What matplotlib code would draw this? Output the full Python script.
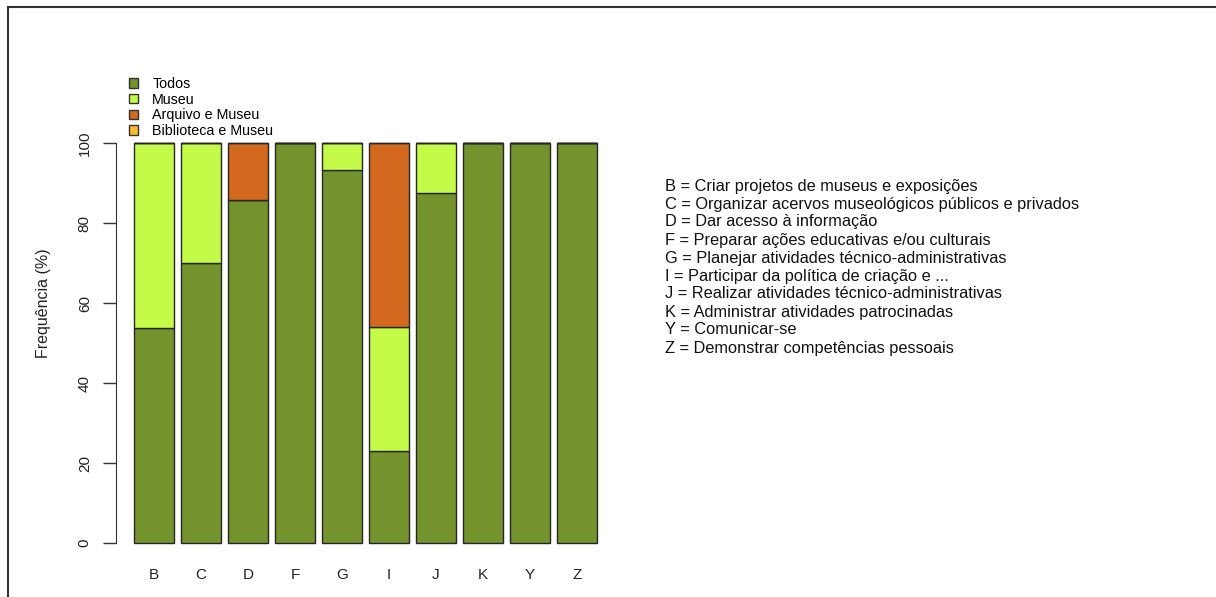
import numpy as np
import matplotlib.pyplot as plt
from matplotlib.patches import Patch
from matplotlib.lines import Line2D

plt.rcParams['font.family'] = ['Liberation Sans', 'DejaVu Sans']

# Data
categories = ['B', 'C', 'D', 'F', 'G', 'I', 'J', 'K', 'Y', 'Z']
todos = [53.8, 70.0, 85.7, 100.0, 93.3, 23.1, 87.5, 100.0, 100.0, 100.0]
museu = [46.2, 30.0, 0.0, 0.0, 6.7, 30.8, 12.5, 0.0, 0.0, 0.0]
arquivo_museu = [0.0, 0.0, 14.3, 0.0, 0.0, 46.1, 0.0, 0.0, 0.0, 0.0]
biblioteca_museu = [0.0] * 10

series_names = ['Todos', 'Museu', 'Arquivo e Museu', 'Biblioteca e Museu']
series_colors = ['#74932c', '#c4fb48', '#d2691e', '#fbbd2c']

descriptions = [
    'B = Criar projetos de museus e exposições',
    'C = Organizar acervos museológicos públicos e privados',
    'D = Dar acesso à informação',
    'F = Preparar ações educativas e/ou culturais',
    'G = Planejar atividades técnico-administrativas',
    'I = Participar da política de criação e ...',
    'J = Realizar atividades técnico-administrativas',
    'K = Administrar atividades patrocinadas',
    'Y = Comunicar-se',
    'Z = Demonstrar competências pessoais',
]

W, H = 1216, 597
fig = plt.figure(figsize=(W / 100, H / 100), dpi=100)
# plot region: y range 0..120 (+4%), axis drawn only up to 100
ax = fig.add_axes([116 / W, (H - 562.2) / H, 499 / W, 518.4 / H])

# R-style barplot positions (space = 0.2, width = 1)
x = 0.7 + 1.2 * np.arange(len(categories))
bottom = np.zeros(len(categories))
for vals, color in zip([todos, museu, arquivo_museu, biblioteca_museu], series_colors):
    ax.bar(x, vals, width=1.0, bottom=bottom, color=color,
           edgecolor='#262626', linewidth=1.0)
    bottom += np.array(vals)

ax.set_xlim(-0.272, 12.472)
ax.set_ylim(-4.8, 124.8)
for s in ['top', 'right', 'bottom']:
    ax.spines[s].set_visible(False)
ax.spines['left'].set_bounds(0, 100)
ax.spines['left'].set_color('#333333')

ax.set_yticks([0, 20, 40, 60, 80, 100])
ax.tick_params(axis='y', length=9.4, width=1, color='#333333', pad=8,
               labelsize=11, labelcolor='#222222')
for lab in ax.get_yticklabels():
    lab.set_rotation(90)
    lab.set_va('center')
ax.set_xticks(x)
ax.set_xticklabels(categories)
ax.tick_params(axis='x', length=0, pad=4, labelsize=11, labelcolor='#222222')
ax.set_ylabel('Frequência (%)', fontsize=11.5, color='#222222', labelpad=19)

handles = [Patch(facecolor=c, edgecolor='#333333', linewidth=1) for c in series_colors]
fig.legend(handles, series_names, loc='upper left',
           bbox_to_anchor=(129 / W, (H - 77) / H), frameon=False,
           fontsize=10.3, handlelength=0.63, handleheight=0.63,
           handletextpad=1.0, labelspacing=0.12, borderpad=0, borderaxespad=0)

# Description block on the right
for i, line in enumerate(descriptions):
    fig.text(665 / W, (H - 186 - i * 18.0) / H, line, fontsize=11.8,
             color='#111111', va='center', ha='left')

# Page frame (top and left edges)
fig.add_artist(Line2D([8 / W, 1.0], [(H - 7) / H, (H - 7) / H],
                      transform=fig.transFigure, color='#333333', linewidth=1.5))
fig.add_artist(Line2D([8 / W, 8 / W], [0, (H - 7) / H],
                      transform=fig.transFigure, color='#333333', linewidth=1.5))

fig.savefig('out.png', dpi=100)
